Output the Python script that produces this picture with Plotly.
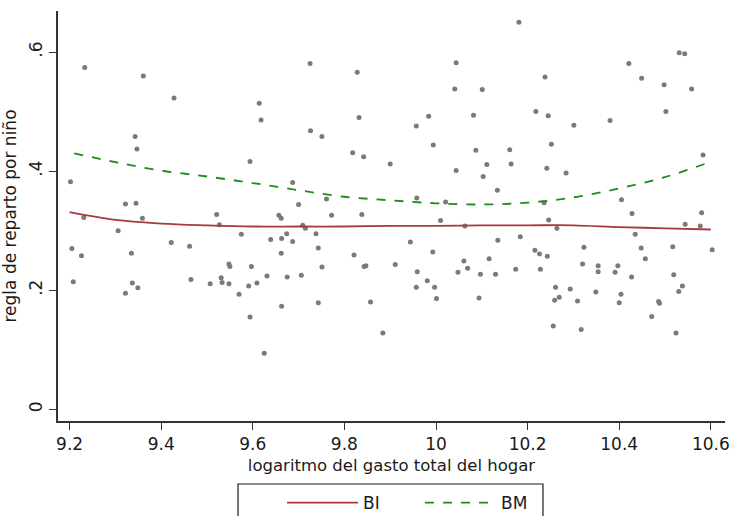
import plotly.graph_objects as go

# Scatter data: log of total household expenditure vs sharing rule per child
x_pts = [9.233, 9.361, 9.428, 9.614, 9.618, 9.343, 9.347, 9.594, 9.202, 9.322,
         9.345, 9.231, 9.359, 9.521, 9.527, 9.306, 9.575, 9.422, 9.462, 9.205,
         9.226, 9.335, 9.208, 9.337, 9.349, 9.322, 9.465, 9.507, 9.531, 9.533,
         9.548, 9.548, 9.550, 9.597, 9.570, 9.591, 9.609, 9.594, 9.725, 9.828,
         10.044, 10.041, 10.101, 9.832, 9.984, 9.957, 10.082, 9.726, 9.751, 9.994,
         10.087, 9.818, 9.842, 9.900, 10.044, 10.111, 10.103, 10.134, 9.687, 9.700,
         9.761, 9.958, 10.021, 9.657, 9.662, 9.772, 9.838, 10.010, 9.709, 9.715,
         10.063, 9.674, 9.738, 9.639, 9.663, 9.687, 9.944, 9.743, 10.135, 9.662,
         9.631, 9.675, 9.706, 9.751, 9.663, 9.743, 9.625, 9.821, 9.843, 9.847,
         9.857, 9.884, 9.911, 9.959, 9.957, 9.993, 9.981, 9.997, 10.001, 10.048,
         10.061, 10.069, 10.094, 10.097, 10.116, 10.130, 10.181, 10.238, 10.421, 10.449,
         10.498, 10.531, 10.543, 10.558, 10.218, 10.245, 10.301, 10.380, 10.502, 10.252,
         10.161, 10.164, 10.242, 10.284, 10.583, 10.236, 10.405, 10.428, 10.580, 10.246,
         10.264, 10.544, 10.577, 10.184, 10.435, 10.323, 10.448, 10.517, 10.216, 10.603,
         10.174, 10.226, 10.243, 10.228, 10.320, 10.261, 10.259, 10.269, 10.293, 10.309,
         10.256, 10.317, 10.354, 10.354, 10.349, 10.397, 10.391, 10.404, 10.400, 10.457,
         10.427, 10.486, 10.488, 10.471, 10.519, 10.538, 10.530, 10.524]
y_pts = [0.574, 0.560, 0.523, 0.514, 0.486, 0.458, 0.437, 0.416, 0.382, 0.345,
         0.346, 0.322, 0.321, 0.327, 0.310, 0.300, 0.294, 0.280, 0.274, 0.270,
         0.258, 0.262, 0.214, 0.212, 0.204, 0.195, 0.218, 0.211, 0.221, 0.213,
         0.211, 0.244, 0.240, 0.240, 0.193, 0.207, 0.212, 0.155, 0.581, 0.566,
         0.582, 0.538, 0.537, 0.490, 0.492, 0.476, 0.494, 0.468, 0.458, 0.444,
         0.435, 0.431, 0.424, 0.412, 0.401, 0.411, 0.391, 0.368, 0.381, 0.344,
         0.353, 0.355, 0.348, 0.326, 0.321, 0.326, 0.327, 0.317, 0.309, 0.304,
         0.308, 0.295, 0.295, 0.285, 0.287, 0.282, 0.281, 0.271, 0.284, 0.262,
         0.224, 0.222, 0.225, 0.239, 0.173, 0.179, 0.094, 0.259, 0.240, 0.241,
         0.180, 0.128, 0.243, 0.231, 0.205, 0.264, 0.216, 0.205, 0.186, 0.230,
         0.249, 0.237, 0.187, 0.227, 0.253, 0.227, 0.650, 0.558, 0.581, 0.556,
         0.545, 0.599, 0.597, 0.538, 0.500, 0.493, 0.477, 0.485, 0.500, 0.445,
         0.436, 0.412, 0.405, 0.397, 0.427, 0.347, 0.352, 0.329, 0.330, 0.318,
         0.304, 0.311, 0.308, 0.290, 0.294, 0.272, 0.271, 0.273, 0.267, 0.268,
         0.235, 0.261, 0.257, 0.235, 0.244, 0.205, 0.183, 0.188, 0.202, 0.182,
         0.140, 0.134, 0.241, 0.231, 0.197, 0.241, 0.230, 0.193, 0.179, 0.253,
         0.222, 0.181, 0.178, 0.156, 0.226, 0.207, 0.198, 0.128]

# Fitted curves
curve_x = [9.2, 9.3, 9.4, 9.5, 9.6, 9.7, 9.8, 9.9, 10.0, 10.1, 10.2, 10.3, 10.4, 10.5, 10.6]
bi_y = [0.331, 0.318, 0.312, 0.309, 0.307, 0.307, 0.307, 0.308, 0.308, 0.309, 0.309, 0.309, 0.306, 0.304, 0.302]
bm_x = [9.21, 9.3, 9.4, 9.5, 9.6, 9.7, 9.8, 9.9, 10.0, 10.1, 10.2, 10.3, 10.4, 10.5, 10.59]
bm_y = [0.430, 0.415, 0.401, 0.391, 0.380, 0.368, 0.357, 0.351, 0.346, 0.344, 0.347, 0.356, 0.371, 0.390, 0.413]

x_ticks = [9.2, 9.4, 9.6, 9.8, 10.0, 10.2, 10.4, 10.6]
x_tick_labels = ["9.2", "9.4", "9.6", "9.8", "10", "10.2", "10.4", "10.6"]
y_ticks = [0, 0.2, 0.4, 0.6]
y_tick_labels = ["0", ".2", ".4", ".6"]

FONT = "DejaVu Sans, Liberation Sans, sans-serif"
RED = "#a8393e"
GREEN = "#1c8c1c"
TXT = "#1a1a1a"

fig = go.Figure()
fig.add_trace(go.Scatter(x=x_pts, y=y_pts, mode="markers",
                         marker=dict(size=5, color="#7a7a7a"),
                         showlegend=False, hoverinfo="skip"))
fig.add_trace(go.Scatter(x=curve_x, y=bi_y, mode="lines", name="BI",
                         line=dict(color=RED, width=1.8, shape="spline")))
fig.add_trace(go.Scatter(x=bm_x, y=bm_y, mode="lines", name="BM",
                         line=dict(color=GREEN, width=1.8, dash="dash", shape="spline")))

# legend frame (extends below the visible page like the reference)
fig.add_shape(type="rect", xref="paper", yref="paper",
              x0=0.2699, x1=0.7271, y0=-0.1537, y1=-0.30,
              line=dict(color=TXT, width=1.2), fillcolor="rgba(0,0,0,0)", layer="above")

fig.update_layout(
    width=735, height=516,
    margin=dict(l=58, r=10, t=11, b=95, autoexpand=False),
    paper_bgcolor="white", plot_bgcolor="white",
    font=dict(family=FONT, size=17, color=TXT),
    showlegend=True,
    legend=dict(orientation="h", x=0.3358, xanchor="left", y=-0.2, yanchor="middle",
                borderwidth=0, bgcolor="rgba(0,0,0,0)",
                font=dict(family=FONT, size=17, color=TXT),
                entrywidth=52, entrywidthmode="pixels", itemwidth=71,
                traceorder="normal"),
    xaxis=dict(range=[9.1747, 10.631], tickvals=x_ticks, ticktext=x_tick_labels,
               showgrid=False, zeroline=False, showline=True, linecolor="#333333",
               linewidth=1.5, ticks="outside", ticklen=7, tickwidth=1.3, tickcolor="#333333",
               tickfont=dict(size=17), automargin=False,
               title=dict(text="logaritmo del gasto total del hogar", font=dict(size=16.5), standoff=6)),
    yaxis=dict(range=[-0.0197, 0.669], tickvals=y_ticks, ticktext=y_tick_labels,
               showgrid=False, zeroline=False, showline=True, linecolor="#333333",
               linewidth=1.5, ticks="outside", ticklen=7, tickwidth=1.3, tickcolor="#333333",
               tickangle=-90, tickfont=dict(size=17), automargin=False,
               title=dict(text="regla de reparto por niño", font=dict(size=17), standoff=6)),
)

fig.write_html("out.html", config={"displayModeBar": False},
               post_script="document.body.style.margin='0px';")
